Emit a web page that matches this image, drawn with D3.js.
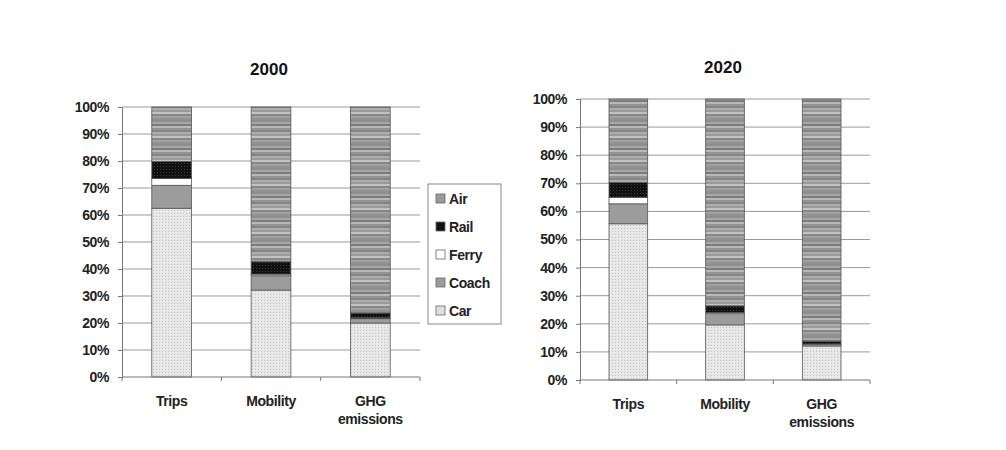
<!DOCTYPE html>
<html>
<head>
<meta charset="utf-8">
<script src="https://cdn.jsdelivr.net/npm/d3@7"></script>
<style>
  body { margin: 0; background: #fff; }
  svg { display: block; font-family: "Liberation Sans", Arial, sans-serif; }
</style>
</head>
<body>
<svg id="chart" width="1006" height="450"></svg>
<script>
// Modal shares (%) by indicator, stacked from bottom (Car) to top (Air)
const categories = ["Trips", "Mobility", "GHG emissions"];
const modes = ["Car", "Coach", "Ferry", "Rail", "Air"];
const legendOrder = ["Air", "Rail", "Ferry", "Coach", "Car"];
const yTicks = [0, 10, 20, 30, 40, 50, 60, 70, 80, 90, 100];

const car2000   = [62.5, 32.2, 20.0];
const coach2000 = [8.5, 5.3, 1.6];
const ferry2000 = [2.5, 0.6, 0.3];
const rail2000  = [6.3, 4.6, 1.8];
const air2000   = [20.2, 57.3, 76.3];

const car2020   = [55.6, 19.6, 12.1];
const coach2020 = [7.1, 4.0, 0.5];
const ferry2020 = [2.3, 0.4, 0.2];
const rail2020  = [5.3, 2.4, 1.0];
const air2020   = [29.7, 73.6, 86.2];

const years = [
  { title: "2000", series: { Car: car2000, Coach: coach2000, Ferry: ferry2000, Rail: rail2000, Air: air2000 },
    x0: 122, x1: 420, y0: 377, y1: 107, titleY: 75 },
  { title: "2020", series: { Car: car2020, Coach: coach2020, Ferry: ferry2020, Rail: rail2020, Air: air2020 },
    x0: 580, x1: 870, y0: 380, y1: 99, titleY: 73 }
];

const svg = d3.select("#chart");
const defs = svg.append("defs");

// Fill patterns for each transport mode
const airP = defs.append("pattern").attr("id", "p-Air").attr("patternUnits", "userSpaceOnUse")
  .attr("width", 8).attr("height", 24);
const airStripes = ["#8e8e8e", "#a8a8a8", "#7d7d7d", "#b9b9b9", "#949494", "#858585",
                    "#adadad", "#9a9a9a", "#c2c2c2", "#888888", "#a0a0a0", "#929292"];
airStripes.forEach((c, i) => airP.append("rect").attr("x", 0).attr("y", i * 2).attr("width", 8).attr("height", 2).attr("fill", c));

const carP = defs.append("pattern").attr("id", "p-Car").attr("patternUnits", "userSpaceOnUse")
  .attr("width", 3).attr("height", 3);
carP.append("rect").attr("width", 3).attr("height", 3).attr("fill", "#e6e6e6");
carP.append("rect").attr("x", 0).attr("y", 0).attr("width", 1).attr("height", 1).attr("fill", "#c4c4c4");
carP.append("rect").attr("x", 2).attr("y", 1).attr("width", 1).attr("height", 1).attr("fill", "#f2f2f2");

const railP = defs.append("pattern").attr("id", "p-Rail").attr("patternUnits", "userSpaceOnUse")
  .attr("width", 3).attr("height", 3);
railP.append("rect").attr("width", 3).attr("height", 3).attr("fill", "#111");
railP.append("rect").attr("x", 1).attr("y", 1).attr("width", 1).attr("height", 1).attr("fill", "#3a3a3a");

const fills = { Air: "url(#p-Air)", Rail: "url(#p-Rail)", Ferry: "#ffffff", Coach: "#9c9c9c", Car: "url(#p-Car)" };
const legendFills = { Air: "#9a9a9a", Rail: "#111", Ferry: "#fff", Coach: "#9c9c9c", Car: "#e0e0e0" };

const labelFont = 14;

years.forEach(yr => {
  const g = svg.append("g");
  const x = d3.scaleBand().domain(categories).range([yr.x0, yr.x1]).padding(0);
  const y = d3.scaleLinear().domain([0, 100]).range([yr.y0, yr.y1]);

  // horizontal gridlines
  g.append("g").selectAll("line").data(yTicks.slice(1)).join("line")
    .attr("x1", yr.x0).attr("x2", yr.x1)
    .attr("y1", d => y(d)).attr("y2", d => y(d))
    .attr("stroke", "#9a9a9a").attr("stroke-width", 1);

  // stacked bars
  const rows = categories.map((c, i) => {
    const r = { cat: c };
    modes.forEach(m => r[m] = yr.series[m][i]);
    return r;
  });
  const stacked = d3.stack().keys(modes)(rows);
  const bw = x.bandwidth() * 0.4;
  stacked.forEach(layer => {
    g.append("g").selectAll("rect").data(layer).join("rect")
      .attr("x", d => x(d.data.cat) + (x.bandwidth() - bw) / 2)
      .attr("width", bw)
      .attr("y", d => y(d[1]))
      .attr("height", d => y(d[0]) - y(d[1]))
      .attr("fill", fills[layer.key])
      .attr("stroke", "#555").attr("stroke-width", 0.8);
  });

  // y axis
  const yAxis = g.append("g").attr("transform", `translate(${yr.x0},0)`)
    .call(d3.axisLeft(y).tickValues(yTicks).tickFormat(d => d + "%").tickSize(4).tickPadding(9));
  yAxis.select(".domain").attr("stroke", "#777");
  yAxis.selectAll(".tick line").attr("stroke", "#777");
  yAxis.selectAll("text").attr("font-size", labelFont).attr("font-weight", "bold")
    .attr("letter-spacing", -0.4).attr("fill", "#222");

  // x axis with ticks at category boundaries
  const xAxis = g.append("g").attr("transform", `translate(0,${yr.y0})`)
    .call(d3.axisBottom(x).tickSize(0).tickFormat(""));
  xAxis.select(".domain").attr("stroke", "#777").attr("d", `M${yr.x0},0H${yr.x1}`);
  const bounds = categories.map(c => x(c)).concat([yr.x1]);
  g.append("g").selectAll("line").data(bounds).join("line")
    .attr("x1", d => d).attr("x2", d => d)
    .attr("y1", yr.y0).attr("y2", yr.y0 + 4)
    .attr("stroke", "#777");

  // category labels (wrapped)
  categories.forEach(c => {
    const words = c === "GHG emissions" ? ["GHG", "emissions"] : [c];
    words.forEach((w, i) => {
      g.append("text")
        .attr("x", x(c) + x.bandwidth() / 2)
        .attr("y", yr.y0 + 29 + i * 18)
        .attr("text-anchor", "middle")
        .attr("font-size", labelFont).attr("font-weight", "bold")
        .attr("letter-spacing", -0.4).attr("fill", "#222")
        .text(w);
    });
  });

  // title
  g.append("text")
    .attr("x", (yr.x0 + yr.x1) / 2 - 2).attr("y", yr.titleY)
    .attr("text-anchor", "middle")
    .attr("font-size", 17).attr("font-weight", "bold").attr("fill", "#111")
    .text(yr.title);
});

// legend
const lg = svg.append("g").attr("transform", "translate(428,184)");
lg.append("rect").attr("width", 73).attr("height", 140)
  .attr("fill", "#fff").attr("stroke", "#888").attr("stroke-width", 1);
legendOrder.forEach((m, i) => {
  const row = lg.append("g").attr("transform", `translate(8,${15 + i * 28})`);
  row.append("rect").attr("x", 0).attr("y", -5).attr("width", 9).attr("height", 9)
    .attr("fill", legendFills[m]).attr("stroke", "#666").attr("stroke-width", 0.8);
  row.append("text").attr("x", 13).attr("y", 5)
    .attr("font-size", labelFont).attr("font-weight", "bold")
    .attr("letter-spacing", -0.4).attr("fill", "#222")
    .text(m);
});
</script>
</body>
</html>
